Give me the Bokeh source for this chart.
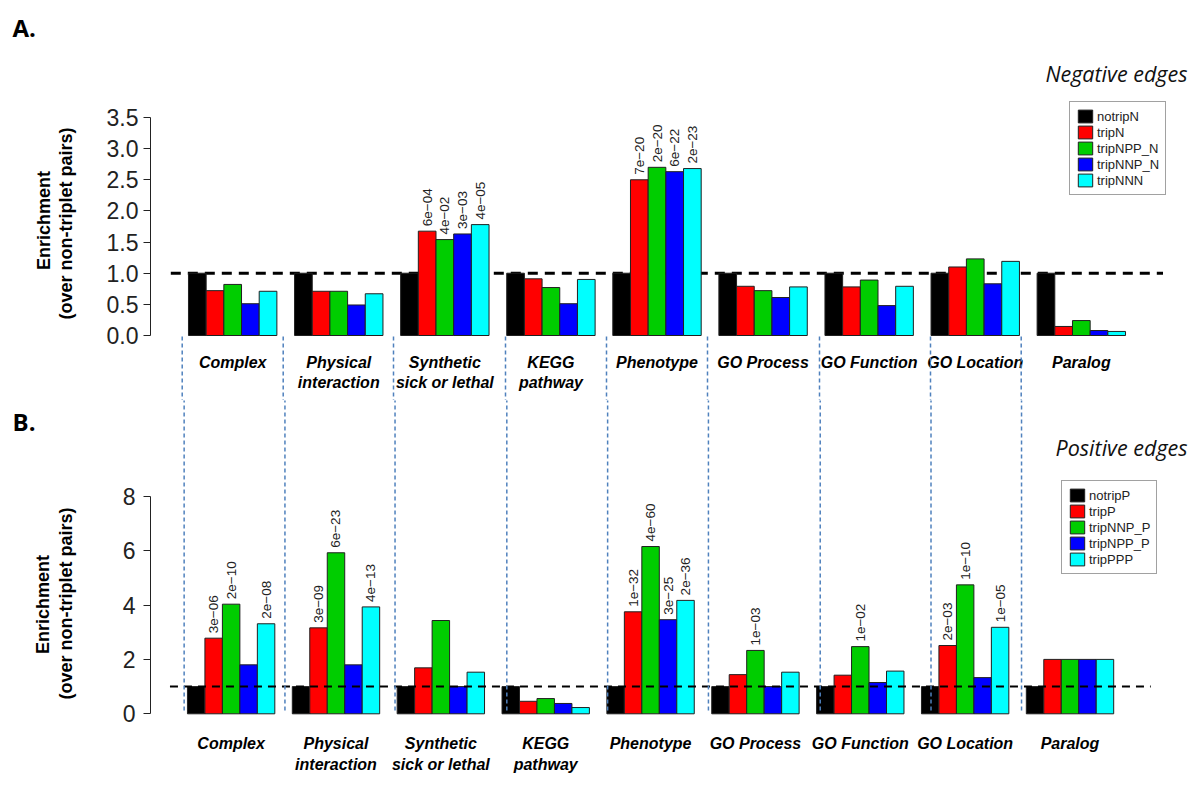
import numpy as np
from bokeh.plotting import figure
from bokeh.models import Range1d, FixedTicker, Legend, LegendItem, ColumnDataSource, PrintfTickFormatter
from bokeh.layouts import column, row
from bokeh.embed import file_html
from bokeh.resources import INLINE
from bokeh.core.properties import value

# ---------------- data ----------------
categories = ["Complex", "Physical\ninteraction", "Synthetic\nsick or lethal", "KEGG\npathway",
              "Phenotype", "GO Process", "GO Function", "GO Location", "Paralog"]

neg_series = ["notripN", "tripN", "tripNPP_N", "tripNNP_N", "tripNNN"]
neg_notripN = [1.0, 1.0, 1.0, 1.0, 1.0, 1.0, 1.0, 1.0, 1.0]
neg_tripN = [0.72, 0.71, 1.675, 0.91, 2.50, 0.79, 0.78, 1.10, 0.145]
neg_tripNPP_N = [0.82, 0.71, 1.54, 0.77, 2.70, 0.72, 0.89, 1.23, 0.24]
neg_tripNNP_N = [0.51, 0.49, 1.63, 0.51, 2.63, 0.61, 0.48, 0.83, 0.08]
neg_tripNNN = [0.71, 0.67, 1.78, 0.90, 2.68, 0.78, 0.79, 1.19, 0.065]
neg_p_notripN = ["", "", "", "", "", "", "", "", ""]
neg_p_tripN = ["", "", "6e\u221204", "", "7e\u221220", "", "", "", ""]
neg_p_tripNPP_N = ["", "", "4e\u221202", "", "2e\u221220", "", "", "", ""]
neg_p_tripNNP_N = ["", "", "3e\u221203", "", "6e\u221222", "", "", "", ""]
neg_p_tripNNN = ["", "", "4e\u221205", "", "2e\u221223", "", "", "", ""]

pos_series = ["notripP", "tripP", "tripNNP_P", "tripNPP_P", "tripPPP"]
pos_notripP = [1.0, 1.0, 1.0, 1.0, 1.0, 1.0, 1.0, 1.0, 1.0]
pos_tripP = [2.78, 3.16, 1.69, 0.46, 3.75, 1.44, 1.42, 2.51, 2.0]
pos_tripNNP_P = [4.03, 5.92, 3.43, 0.56, 6.15, 2.33, 2.47, 4.74, 2.0]
pos_tripNPP_P = [1.80, 1.80, 1.0, 0.38, 3.46, 1.0, 1.15, 1.33, 2.0]
pos_tripPPP = [3.31, 3.93, 1.53, 0.23, 4.17, 1.53, 1.57, 3.18, 2.0]
pos_p_notripP = ["", "", "", "", "", "", "", "", ""]
pos_p_tripP = ["3e\u221206", "3e\u221209", "", "", "1e\u221232", "", "", "2e\u221203", ""]
pos_p_tripNNP_P = ["2e\u221210", "6e\u221223", "", "", "4e\u221260", "1e\u221203", "1e\u221202", "1e\u221210", ""]
pos_p_tripNPP_P = ["", "", "", "", "3e\u221225", "", "", "", ""]
pos_p_tripPPP = ["2e\u221208", "4e\u221213", "", "", "2e\u221236", "", "", "1e\u221205", ""]

colors = ["#000000", "#FF0000", "#00CD00", "#0000FF", "#00FFFF"]

# ---------------- layout constants (page pixels) ----------------
LEFT_W = 80          # width of the side strip holding panel tags and y titles
TOTAL_W = 1196
TOTAL_H = 785
HA = 400             # height of panel A figure
SEP_PX = [181.7, 282.7, 393, 505, 606, 707, 819, 930, 1020.7]   # blue dashed separators
FONT = "Liberation Sans"


def make_panel(top_py, height, axis_px, x0px, unitpx, y0py, ypx,
               series, values, pvals, ymax, yticks, fmt, ref_w, ref_dash, line_front,
               label_y1, label_y2, edge_text, edge_py, legend_loc,
               sep_from_py, sep_to_py, standoff):
    width = TOTAL_W - LEFT_W
    fx = lambda px: (px - x0px) / unitpx
    fy = lambda py: (y0py - py) / ypx
    p = figure(width=width, height=height, output_backend="svg", toolbar_location=None,
               x_range=Range1d(fx(axis_px), fx(TOTAL_W)),
               y_range=Range1d(fy(top_py + height), fy(top_py)),
               x_axis_location=None,
               min_border_left=axis_px - LEFT_W, min_border_right=0,
               min_border_top=0, min_border_bottom=0)
    p.outline_line_color = None
    p.xgrid.visible = False
    p.ygrid.visible = False
    ax = p.yaxis[0]
    ax.bounds = (0, ymax)
    ax.ticker = FixedTicker(ticks=yticks)
    if fmt:
        ax.formatter = PrintfTickFormatter(format=fmt)
    ax.minor_tick_line_color = None
    ax.major_tick_out = 7
    ax.major_tick_in = 0
    ax.major_label_standoff = standoff
    ax.major_label_text_font = FONT
    ax.major_label_text_font_size = "23px"
    ax.major_label_text_color = "#222222"
    ax.axis_line_color = "#222222"
    ax.major_tick_line_color = "#222222"

    n = len(categories)
    ref_x = [0, 56.12]
    if not line_front:
        p.line(ref_x, [1, 1], line_color="black", line_width=ref_w, line_dash=ref_dash)

    items = []
    for s, (name, vals) in enumerate(zip(series, values)):
        xs = [6 * g + 1 + s + 0.5 for g in range(n)]
        src = ColumnDataSource(dict(x=xs, top=vals))
        r = p.vbar(x="x", top="top", bottom=0, width=1, source=src,
                   fill_color=colors[s], line_color="#202020", line_width=1)
        items.append(LegendItem(label=name, renderers=[r]))

    if line_front:
        p.line(ref_x, [1, 1], line_color="black", line_width=ref_w, line_dash=ref_dash)

    # p-value labels
    tx, ty, tt = [], [], []
    for s, (vals, pv) in enumerate(zip(values, pvals)):
        for g in range(n):
            if pv[g]:
                tx.append(6 * g + 1 + s + 0.5)
                ty.append(vals[g])
                tt.append(pv[g])
    p.text(x=tx, y=ty, text=tt, angle=np.pi / 2, text_align="left", text_baseline="middle",
           y_offset=-5, text_font=value(FONT), text_font_size=value("13.5px"), text_color="#222222")

    # category labels
    cx = [6 * g + 3.5 for g in range(n)]
    l1 = [c.split("\n")[0] for c in categories]
    l2 = [c.split("\n")[1] if "\n" in c else "" for c in categories]
    for txt, ly in ((l1, label_y1), (l2, label_y2)):
        p.text(x=cx, y=[fy(ly)] * n, text=txt, text_align="center", text_baseline="middle",
               text_font=value(FONT), text_font_size=value("16px"), text_font_style="bold italic",
               text_color="black")

    # separators
    sx = [fx(px) for px in SEP_PX]
    p.segment(x0=sx, x1=sx, y0=[fy(sep_from_py)] * len(sx), y1=[fy(sep_to_py)] * len(sx),
              line_color="#4F81BD", line_width=1.5, line_dash="4 3")

    legend = Legend(items=items, location=legend_loc, padding=6, spacing=0, margin=0,
                    glyph_width=18, glyph_height=16, label_height=16, label_standoff=3,
                    label_text_font=FONT, label_text_font_size="13px", label_text_color="#222222",
                    border_line_color="#444444", border_line_width=1, background_fill_alpha=1)
    p.add_layout(legend)

    p.text(x=[fx(1187)], y=[fy(edge_py)], text=[edge_text], text_align="right",
           text_baseline="middle", text_font=value("Open Sans"), text_font_size=value("21.5px"),
           text_font_style="italic", text_color="#111111")
    return p


# side strip: panel tags and y-axis titles (coordinates = page pixels)
side = figure(width=LEFT_W, height=TOTAL_H, output_backend="svg", toolbar_location=None,
              x_range=Range1d(0, LEFT_W), y_range=Range1d(0, TOTAL_H),
              x_axis_location=None, y_axis_location=None,
              min_border_left=0, min_border_right=0, min_border_top=0, min_border_bottom=0)
side.outline_line_color = None
side.xgrid.visible = False
side.ygrid.visible = False
py = lambda v: TOTAL_H - v
side.text(x=[12, 12], y=[py(27), py(421)], text=["A.", "B."], text_align="left",
          text_baseline="middle", text_font=value("Open Sans"), text_font_size=value("24px"),
          text_font_style="bold", text_color="black")
side.text(x=[43, 42], y=[py(220), py(604)], text=["Enrichment", "Enrichment"], angle=np.pi / 2,
          text_align="center", text_baseline="middle", text_font=value(FONT),
          text_font_size=value("18px"), text_font_style="bold", text_color="black")
side.text(x=[65, 65], y=[py(223), py(603)],
          text=["(over non-triplet pairs)", "(over non-triplet pairs)"], angle=np.pi / 2,
          text_align="center", text_baseline="middle", text_font=value(FONT),
          text_font_size=value("18px"), text_font_style="bold", text_color="black")

pA = make_panel(top_py=0, height=HA, axis_px=150, x0px=170.3, unitpx=17.68, y0py=335, ypx=62.29,
                series=neg_series,
                values=[neg_notripN, neg_tripN, neg_tripNPP_N, neg_tripNNP_N, neg_tripNNN],
                pvals=[neg_p_notripN, neg_p_tripN, neg_p_tripNPP_N, neg_p_tripNNP_N, neg_p_tripNNN],
                ymax=3.5, yticks=[0, 0.5, 1, 1.5, 2, 2.5, 3, 3.5], fmt="%.1f",
                ref_w=3, ref_dash="10 7", line_front=False,
                label_y1=362, label_y2=382,
                edge_text="Negative edges", edge_py=73, legend_loc=(919, 205),
                sep_from_py=336, sep_to_py=HA + 2, standoff=5)

pB = make_panel(top_py=HA, height=TOTAL_H - HA, axis_px=148, x0px=167.5, unitpx=17.51,
                y0py=713.3, ypx=27.2,
                series=pos_series,
                values=[pos_notripP, pos_tripP, pos_tripNNP_P, pos_tripNPP_P, pos_tripPPP],
                pvals=[pos_p_notripP, pos_p_tripP, pos_p_tripNNP_P, pos_p_tripNPP_P, pos_p_tripPPP],
                ymax=8, yticks=[0, 2, 4, 6, 8], fmt=None,
                ref_w=2, ref_dash="8 6", line_front=True,
                label_y1=743, label_y2=764,
                edge_text="Positive edges", edge_py=447, legend_loc=(911, TOTAL_H - 574),
                sep_from_py=HA - 2, sep_to_py=712, standoff=8)

layout = row(side, column(pA, pB, spacing=0), spacing=0)
open("out.html", "w").write(file_html(layout, INLINE))
